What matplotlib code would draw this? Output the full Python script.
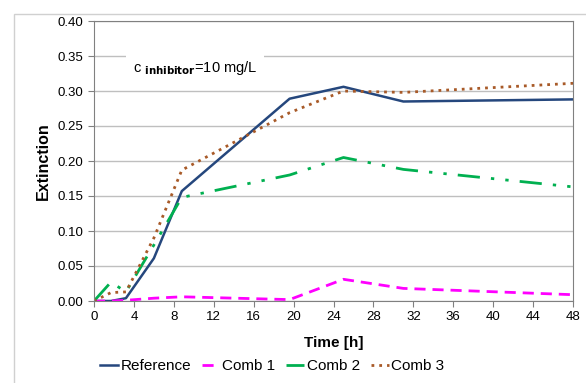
import matplotlib.pyplot as plt
from matplotlib.patches import Rectangle

plt.rcParams['font.family'] = ['Liberation Sans', 'DejaVu Sans']

# time points in hours
time_h = [0, 1.7, 3.2, 6, 8.8, 19.6, 25, 31, 48]

# extinction values
reference = [0.0, 0.0, 0.004, 0.061, 0.157, 0.289, 0.306, 0.285, 0.288]
comb1 = [0.0, 0.0, 0.001, 0.004, 0.006, 0.002, 0.031, 0.018, 0.009]
comb2 = [0.0, 0.027, 0.013, 0.080, 0.148, 0.180, 0.205, 0.188, 0.163]
comb3 = [0.0, 0.012, 0.013, 0.090, 0.187, 0.269, 0.300, 0.298, 0.311]

x_ticks = list(range(0, 49, 4))
y_ticks = [0.00, 0.05, 0.10, 0.15, 0.20, 0.25, 0.30, 0.35, 0.40]

fig = plt.figure(figsize=(5.86, 3.83), dpi=100)
ax = fig.add_axes([94 / 586, 1 - 301 / 383, (573 - 94) / 586, (301 - 21) / 383])

# outer chart-area frame
fig.patches.append(Rectangle((14 / 586, -0.1), 1.2, 1 - 14 / 383 + 0.1,
                             transform=fig.transFigure, fill=False,
                             edgecolor='#d0d0d0', linewidth=1.0))

ax.plot(time_h, reference, color='#25477d', linewidth=1.8, label='Reference')
ax.plot(time_h, comb1, color='#ff00ff', linewidth=2.0, dashes=(4, 2.5), label='Comb 1')
ax.plot(time_h, comb2, color='#00b050', linewidth=2.0,
        dashes=(8, 4, 1.2, 4, 1.2, 4), label='Comb 2')
ax.plot(time_h, comb3, color='#a85a28', linewidth=2.0, dashes=(1, 1.8), label='Comb 3')

ax.set_xlim(0, 48)
ax.set_ylim(0, 0.40)
ax.set_xticks(x_ticks)
ax.set_yticks(y_ticks)
ax.set_yticklabels([f'{v:.2f}' for v in y_ticks])
ax.grid(axis='y', color='#bfbfbf', linewidth=1.0)
ax.set_axisbelow(True)
ax.tick_params(axis='both', labelsize=9.5, color='#808080', length=4, direction='out')
for side in ['left', 'bottom', 'right', 'top']:
    ax.spines[side].set_color('#808080')

ax.set_xlabel('Time [h]', fontsize=11, fontweight='bold', labelpad=9)
ax.set_ylabel('Extinction', fontsize=11.5, fontweight='bold', labelpad=5)

ax.text(3.9, 0.333, r'c $_{\mathbf{inhibitor}}$=10 mg/L', fontsize=10.5, va='center',
        bbox=dict(facecolor='white', edgecolor='none', pad=5))

leg = fig.legend(loc='center', bbox_to_anchor=(272 / 586, 1 - 366 / 383), ncol=4,
                 frameon=False, fontsize=11, handlelength=1.2, handletextpad=0.15,
                 columnspacing=0.7)

fig.savefig('out.png', dpi=100)
